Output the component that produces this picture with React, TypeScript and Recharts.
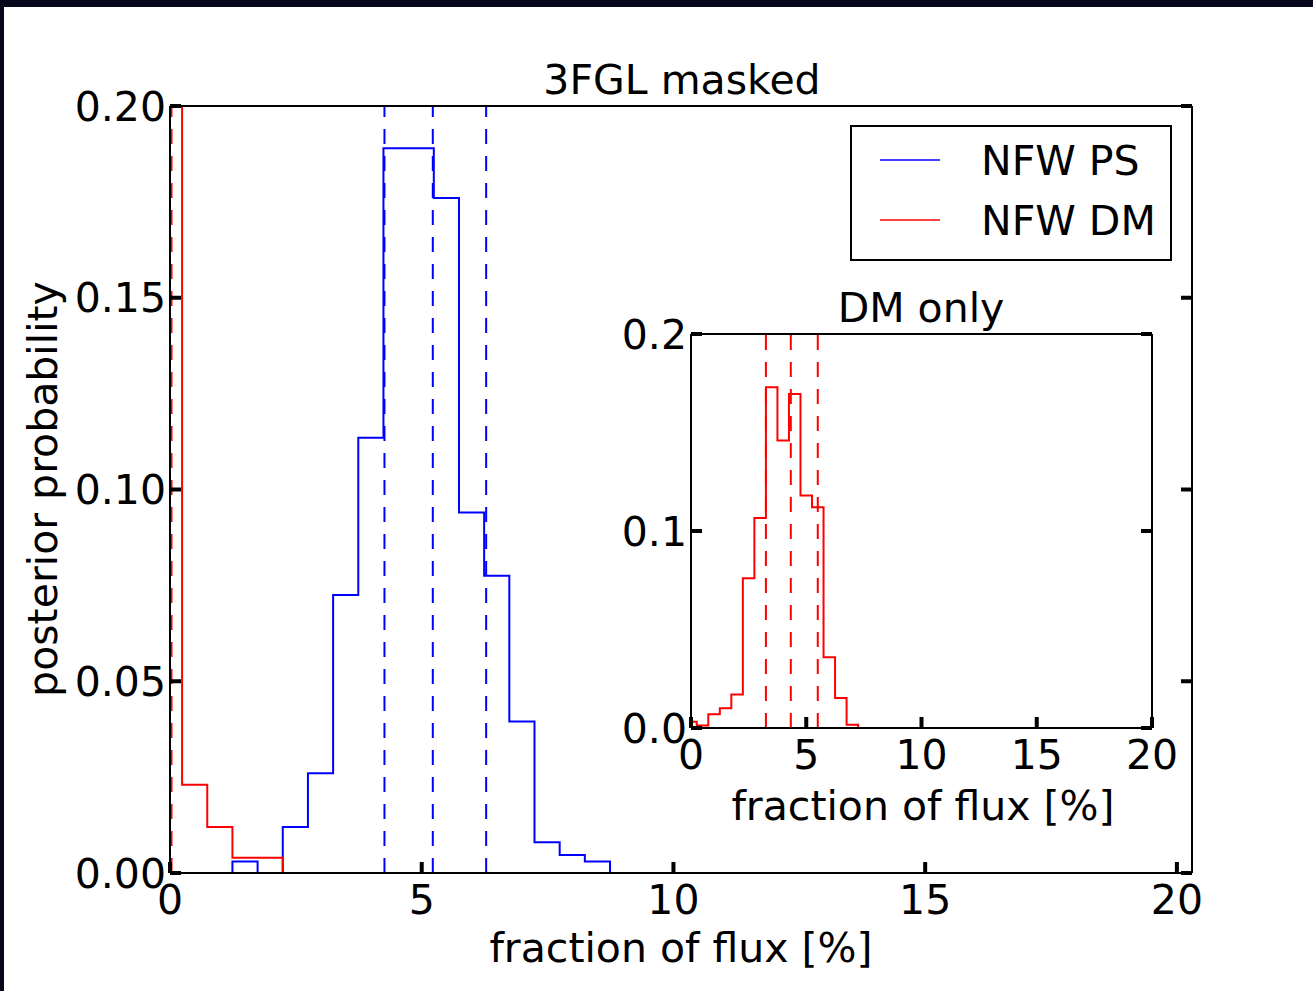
import React from 'react';
import { ComposedChart, Line, XAxis, YAxis, ReferenceLine, Legend } from 'recharts';

const FONT = '"DejaVu Sans", "Liberation Sans", sans-serif';
const FS = 41;
const BLUE = '#0000ff';
const RED = '#ff0000';

// ---------- main panel: "3FGL masked" ----------
const mainPsEdges = [1.24, 1.74, 2.24, 2.74, 3.24, 3.74, 4.24, 4.74, 5.24, 5.74, 6.24, 6.74, 7.24, 7.74, 8.24, 8.74];
const mainPsValues = [0.003, 0, 0.012, 0.026, 0.0725, 0.1135, 0.189, 0.189, 0.176, 0.094, 0.0775, 0.0395, 0.008, 0.0047, 0.003];
const mainDmEdges = [0, 0.24, 0.74, 1.24, 1.74, 2.24];
const mainDmValues = [0.6, 0.023, 0.012, 0.004, 0.004];
const mainPsQuantiles = [4.26, 5.22, 6.28];
const mainDmQuantiles = [0.03];
const mainXTicks = [0, 5, 10, 15, 20];
const mainYTicks = [0, 0.05, 0.1, 0.15, 0.2];
const mainXDomain = [0, 20.3];
const mainYDomain = [0, 0.2];

// ---------- inset: "DM only" ----------
const insetDmEdges = [0, 0.25, 0.75, 1.25, 1.75, 2.25, 2.75, 3.25, 3.75, 4.25, 4.75, 5.25, 5.75, 6.25, 6.75, 7.25, 19.75];
const insetDmValues = [0.0032, 0.0013, 0.007, 0.01, 0.017, 0.076, 0.1066, 0.173, 0.146, 0.1696, 0.118, 0.112, 0.0359, 0.0152, 0.0017, 0];
const insetDmQuantiles = [3.25, 4.33, 5.5];
const insetXTicks = [0, 5, 10, 15, 20];
const insetYTicks = [0, 0.1, 0.2];
const insetXDomain = [0, 20];
const insetYDomain = [0, 0.2];

const legendOrder = ['NFW PS', 'NFW DM'];

function histPoints(edges: number[], values: number[], closeStart: boolean) {
  const pts: { x: number; y: number }[] = [];
  if (closeStart) pts.push({ x: edges[0], y: 0 });
  values.forEach((v, i) => pts.push({ x: edges[i], y: v }));
  pts.push({ x: edges[edges.length - 1], y: 0 });
  return pts;
}

const mainPs = histPoints(mainPsEdges, mainPsValues, true);
const mainDm = histPoints(mainDmEdges, mainDmValues, false);
const insetDm = histPoints(insetDmEdges, insetDmValues, false);

const tickStyle = { fill: '#000', fontSize: FS, fontFamily: FONT };
const axisLineStyle = { stroke: '#000', strokeWidth: 2 };
const tickLineStyle = { stroke: '#000', strokeWidth: 4 };
const EmptyTick = () => <g />;

const MainLegend = (props: any) => {
  const items = [...(props.payload || [])].sort(
    (a: any, b: any) => legendOrder.indexOf(a.value) - legendOrder.indexOf(b.value)
  );
  return (
    <svg width={322} height={136} style={{ display: 'block' }}>
      <rect x={1} y={1} width={320} height={134} fill="#fff" stroke="#000" strokeWidth={2} />
      {items.map((it: any, i: number) => (
        <g key={i}>
          <line x1={30} x2={90} y1={35 + 60 * i} y2={35 + 60 * i} stroke={it.color} strokeWidth={1.5} />
          <text x={131} y={50 + 60 * i} fontSize={FS} fontFamily={FONT} fill="#000">
            {it.value}
          </text>
        </g>
      ))}
    </svg>
  );
};

export default function App() {
  return (
    <div style={{ position: 'fixed', left: 0, top: 0, width: 1313, height: 991, background: '#fff', overflow: 'hidden' }}>
      <ComposedChart width={1313} height={991} margin={{ top: 106, right: 121, bottom: 58, left: 70 }}>
        <Line data={mainPs} dataKey="y" name={legendOrder[0]} type="stepAfter" stroke={BLUE} strokeWidth={2} dot={false} activeDot={false} isAnimationActive={false} />
        <Line data={mainDm} dataKey="y" name={legendOrder[1]} type="stepAfter" stroke={RED} strokeWidth={2} dot={false} activeDot={false} isAnimationActive={false} />
        {mainPsQuantiles.map((q) => (
          <ReferenceLine key={'p' + q} x={q} stroke={BLUE} strokeWidth={2} strokeDasharray="15 12" />
        ))}
        {mainDmQuantiles.map((q) => (
          <ReferenceLine key={'d' + q} x={q} stroke={RED} strokeWidth={2} strokeDasharray="15 12" />
        ))}
        <XAxis dataKey="x" type="number" domain={mainXDomain} ticks={mainXTicks} interval={0} allowDataOverflow height={60}
          axisLine={axisLineStyle} tickLine={tickLineStyle} tickSize={-11} tickMargin={23} tick={tickStyle} />
        <XAxis xAxisId="top" orientation="top" mirror type="number" domain={mainXDomain} ticks={mainXTicks} interval={0} allowDataOverflow height={30}
          axisLine={axisLineStyle} tickLine={tickLineStyle} tickSize={11} tick={EmptyTick} />
        <YAxis type="number" domain={mainYDomain} ticks={mainYTicks} interval={0} allowDataOverflow width={100}
          axisLine={axisLineStyle} tickLine={tickLineStyle} tickSize={-11} tickMargin={15} tick={tickStyle}
          tickFormatter={(v: number) => v.toFixed(2)} />
        <YAxis yAxisId="right" orientation="right" mirror type="number" domain={mainYDomain} ticks={mainYTicks} interval={0} allowDataOverflow width={30}
          axisLine={axisLineStyle} tickLine={tickLineStyle} tickSize={11} tick={EmptyTick} />
        <Legend layout="vertical" align="center" verticalAlign="middle"
          wrapperStyle={{ left: 850, top: 125, width: 322, height: 136 }} content={MainLegend} />
        <text x={682} y={94} textAnchor="middle" fontSize={FS} fontFamily={FONT} fill="#000">3FGL masked</text>
        <text x={681} y={962} textAnchor="middle" fontSize={FS} fontFamily={FONT} fill="#000">fraction of flux [%]</text>
        <text x={57} y={489} textAnchor="middle" fontSize={FS} fontFamily={FONT} fill="#000" transform="rotate(-90 57 489)">posterior probability</text>
      </ComposedChart>

      <div style={{ position: 'absolute', left: 560, top: 270 }}>
        <ComposedChart width={660} height={580} margin={{ top: 64, right: 68, bottom: 62, left: 31 }}>
          <Line data={insetDm} dataKey="y" name="NFW DM" type="stepAfter" stroke={RED} strokeWidth={2} dot={false} activeDot={false} isAnimationActive={false} />
          {insetDmQuantiles.map((q) => (
            <ReferenceLine key={'i' + q} x={q} stroke={RED} strokeWidth={2} strokeDasharray="15 12" />
          ))}
          <XAxis dataKey="x" type="number" domain={insetXDomain} ticks={insetXTicks} interval={0} allowDataOverflow height={60}
            axisLine={axisLineStyle} tickLine={tickLineStyle} tickSize={-11} tickMargin={23} tick={tickStyle} />
          <XAxis xAxisId="top" orientation="top" mirror type="number" domain={insetXDomain} ticks={insetXTicks} interval={0} allowDataOverflow height={30}
            axisLine={axisLineStyle} tickLine={tickLineStyle} tickSize={11} tick={EmptyTick} />
          <YAxis type="number" domain={insetYDomain} ticks={insetYTicks} interval={0} allowDataOverflow width={100}
            axisLine={axisLineStyle} tickLine={tickLineStyle} tickSize={-11} tickMargin={15} tick={tickStyle}
            tickFormatter={(v: number) => v.toFixed(1)} />
          <YAxis yAxisId="right" orientation="right" mirror type="number" domain={insetYDomain} ticks={insetYTicks} interval={0} allowDataOverflow width={30}
            axisLine={axisLineStyle} tickLine={tickLineStyle} tickSize={11} tick={EmptyTick} />
          <text x={361} y={52} textAnchor="middle" fontSize={FS} fontFamily={FONT} fill="#000">DM only</text>
          <text x={363} y={550} textAnchor="middle" fontSize={FS} fontFamily={FONT} fill="#000">fraction of flux [%]</text>
        </ComposedChart>
      </div>

      <div style={{ position: 'absolute', left: 0, top: 0, width: 1313, height: 7, background: '#07071a' }} />
      <div style={{ position: 'absolute', left: 0, top: 0, width: 4, height: 991, background: '#07071a' }} />
    </div>
  );
}
